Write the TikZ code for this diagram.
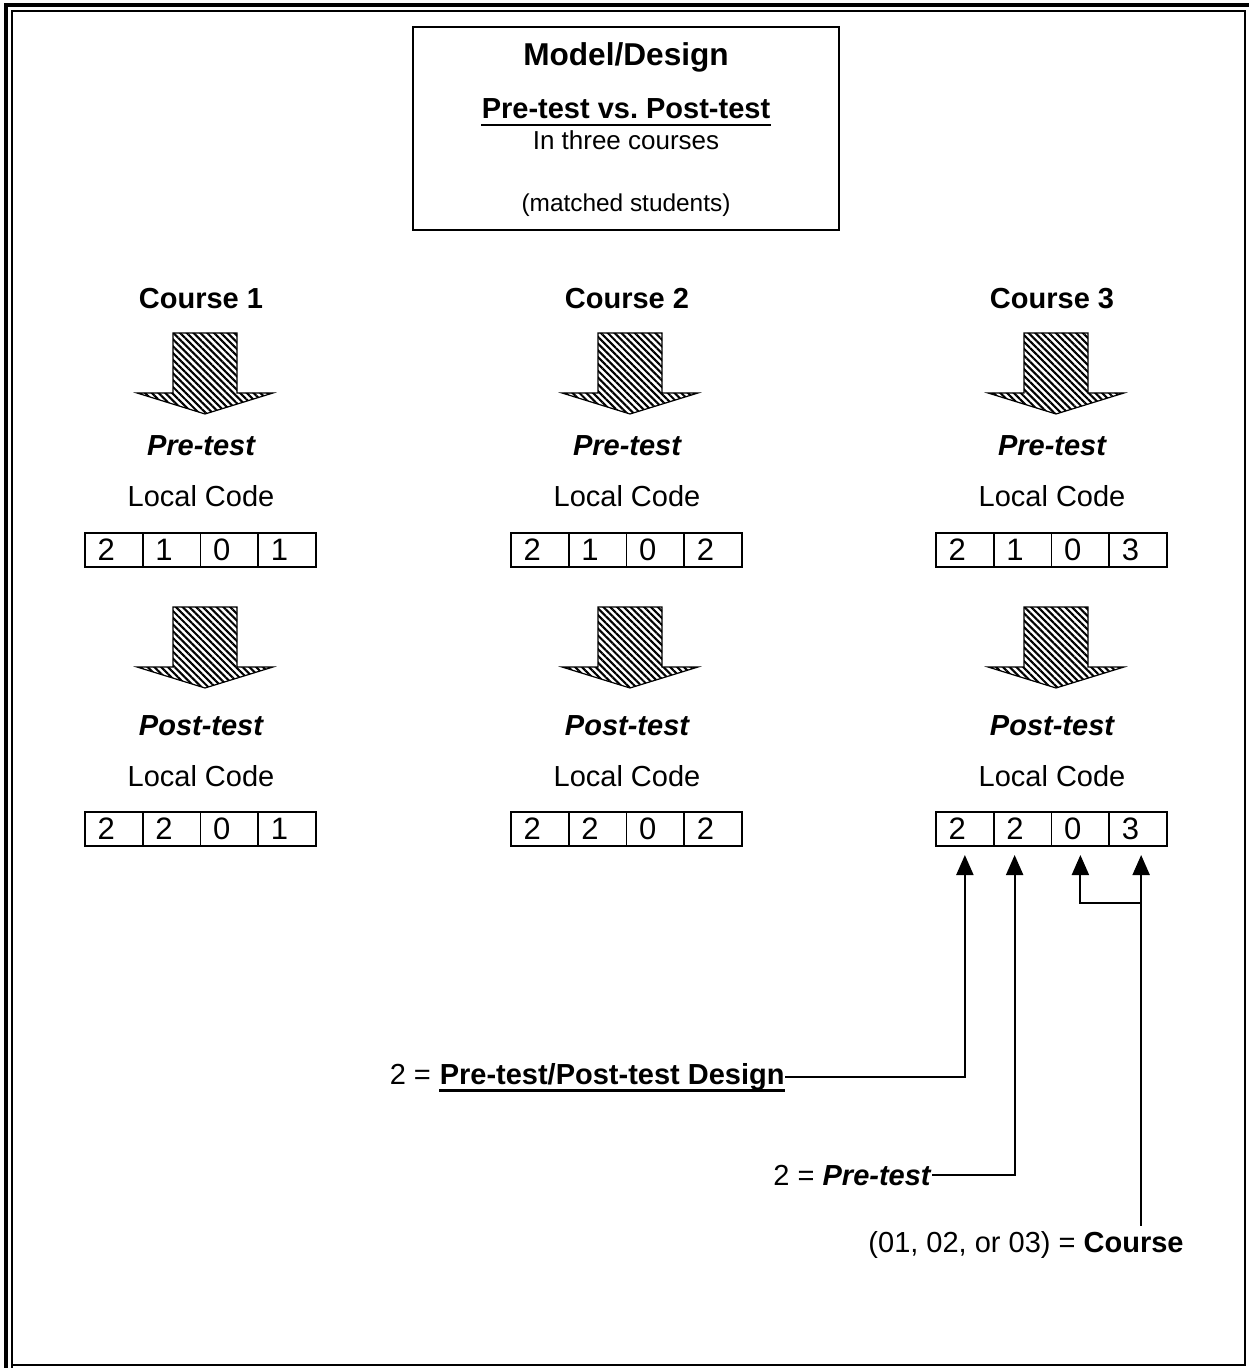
\documentclass[tikz,border=0pt]{standalone}
\usepackage{fontspec}
\setmainfont{Liberation Sans}
\usetikzlibrary{arrows.meta,patterns.meta}
\frenchspacing
\newcommand\hatcharrow[2]{%
  \draw[harrow] (#1-32,#2) -- (#1+32,#2) -- (#1+32,#2+60) -- (#1+68,#2+60)
    -- (#1,#2+81) -- (#1-68,#2+60) -- (#1-32,#2+60) -- cycle;}
\newcommand\codebox[7]{%
  \node[cell,anchor=west] (#11) at (#2,#3) {#4};
  \node[cell,anchor=west] (#12) at (#11.east) {#5};
  \node[cell,anchor=west] (#13) at (#12.east) {#6};
  \node[cell,anchor=west] (#14) at (#13.east) {#7};}
\begin{document}
\begin{tikzpicture}[x=0.5pt,y=-0.5pt,
  lbl/.style={anchor=base,inner sep=0pt,font=\fontsize{14.5}{17}\selectfont},
  hd/.style={lbl,font=\fontsize{14.5}{17}\selectfont\bfseries},
  hdi/.style={lbl,font=\fontsize{14.5}{17}\selectfont\bfseries\itshape},
  cell/.style={draw,line width=0.9pt,outer sep=0pt,minimum height=17pt,
    text width=16.375pt,inner xsep=6.25pt,inner ysep=0pt,align=left,
    font=\fontsize{15.5}{17}\selectfont},
  harrow/.style={draw,line width=0.6pt,line join=miter,
    pattern={Lines[angle=-45,distance=2.4pt,line width=1.05pt]}},
  conn/.style={line width=1pt,-{Triangle[width=8.5pt,length=10pt]}},
  ]
\useasboundingbox (0,0) rectangle (1248,1368);
% page border
\draw[line width=1.6pt] (6,1370) -- (6,5) -- (1250,5);
\draw[line width=1.3pt] (12,1370) -- (12,11) -- (1245,11) -- (1245,1365) -- (12,1365);
% title box
\node[draw,line width=1.2pt,minimum width=213pt,minimum height=101.5pt,inner sep=0pt] (titlebox) at (626,128.5) {};
\node[lbl,font=\fontsize{15.8}{18}\selectfont\bfseries] (t1) at (626,66) {Model/Design};
\node[hd] (t2) at (626,119) {Pre-test vs. Post-test};
\draw[line width=1pt] ([yshift=-3pt]t2.base west) -- ([yshift=-3pt]t2.base east);
\node[lbl,font=\fontsize{13}{15}\selectfont] (t3) at (626,150) {In three courses};
\node[lbl,font=\fontsize{12.2}{14}\selectfont] (t4) at (626,212) {(matched students)};
% columns
\foreach \i/\cx/\ax/\bx in {1/201/205/85, 2/627/630/511, 3/1052/1056/936}{
  \node[hd] (course\i) at (\cx,309) {Course \i};
  \hatcharrow{\ax}{333}
  \node[hdi] (pre\i) at (\cx,456) {Pre-test};
  \node[lbl] (lc\i) at (\cx,507) {Local Code};
  \hatcharrow{\ax}{607}
  \node[hdi] (post\i) at (\cx,735) {Post-test};
  \node[lbl] (lcb\i) at (\cx,786) {Local Code};
}
\codebox{pa}{85}{550}{2}{1}{0}{1}
\codebox{pb}{511}{550}{2}{1}{0}{2}
\codebox{pc}{936}{550}{2}{1}{0}{3}
\codebox{qa}{85}{829}{2}{2}{0}{1}
\codebox{qb}{511}{829}{2}{2}{0}{2}
\codebox{q}{936}{829}{2}{2}{0}{3}
% legend texts
\node[hd,anchor=base east] (ldesign) at (785,1084) {Pre-test/Post-test Design};
\draw[line width=1.5pt] ([yshift=-3pt]ldesign.base west) -- ([yshift=-3pt]ldesign.base east);
\node[lbl,anchor=base east] (eq1) at ([xshift=-4pt]ldesign.base west) {2 =};
\node[lbl,anchor=base east] (lpre) at (932,1185) {2 = \textbf{\textit{Pre-test}}};
\node[lbl,anchor=base east] (crs) at (1184,1252) {(01, 02, or 03) = \textbf{Course}};
% connectors
\coordinate (a1) at ([yshift=-4.5pt]q1.south);
\coordinate (a2) at ([xshift=-4pt,yshift=-4.5pt]q2.south);
\coordinate (a3) at ([yshift=-4.5pt]q3.south);
\coordinate (a4) at ([xshift=1.5pt,yshift=-4.5pt]q4.south);
\coordinate (jy) at (0,903);
\coordinate (b4) at (a4 |- crs.north);
\draw[conn] (ldesign.east) -| (a1);
\draw[conn] (lpre.east) -| (a2);
\draw[conn] ([yshift=2.5pt]b4) -- (a4);
\draw[conn] (a4 |- jy) -| (a3);
\end{tikzpicture}
\end{document}
